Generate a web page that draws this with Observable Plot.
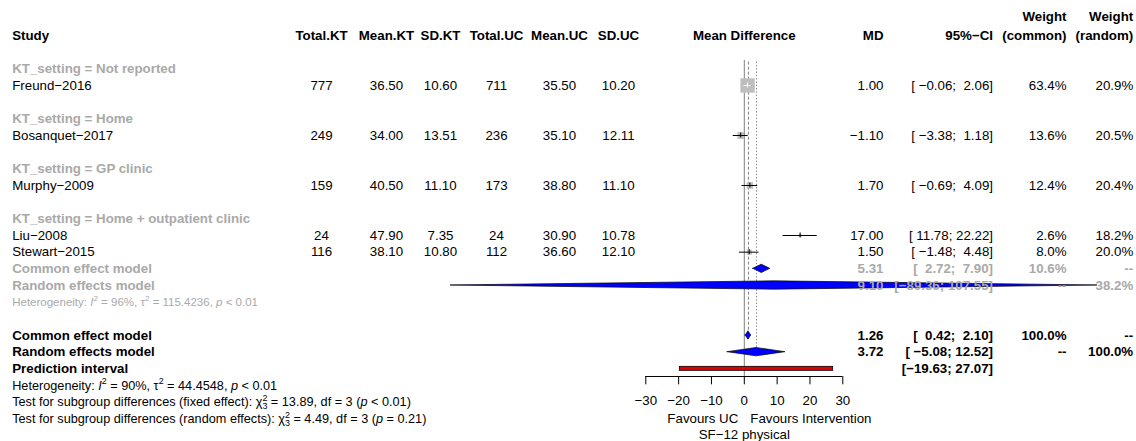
<!DOCTYPE html>
<html><head><meta charset="utf-8">
<script src="https://cdn.jsdelivr.net/npm/d3@7"></script>
<script src="https://cdn.jsdelivr.net/npm/@observablehq/plot@0.6"></script>
<style>
html,body{margin:0;padding:0;background:#fff;}
svg{font-family:"Liberation Sans",Arial,Helvetica,sans-serif;}
svg text{white-space:pre;}
</style></head><body>
<script>
// ---------- data ----------
const groupLabels = ["KT_setting = Not reported","KT_setting = Home","KT_setting = GP clinic","KT_setting = Home + outpatient clinic"];
const studies   = ["Freund\u22122016","Bosanquet\u22122017","Murphy\u22122009","Liu\u22122008","Stewart\u22122015"];
const studyGroup= [0,1,2,3,3];
const totalKT   = [777,249,159,24,116];
const meanKT    = [36.50,34.00,40.50,47.90,38.10];
const sdKT      = [10.60,13.51,11.10,7.35,10.80];
const totalUC   = [711,236,173,24,112];
const meanUC    = [35.50,35.10,38.80,30.90,36.60];
const sdUC      = [10.20,12.11,11.10,10.78,12.10];
const md        = [1.00,-1.10,1.70,17.00,1.50];
const ciLo      = [-0.06,-3.38,-0.69,11.78,-1.48];
const ciHi      = [2.06,1.18,4.09,22.22,4.48];
const wCommon   = [63.4,13.6,12.4,2.6,8.0];
const wRandom   = [20.9,20.5,20.4,18.2,20.0];
const subCommon = {group:3, md:5.31, lo:2.72, hi:7.90, wc:"10.6%", wr:"--"};
const subRandom = {group:3, md:9.10, lo:-89.36, hi:107.55, wc:"--", wr:"38.2%"};
const subHet    = "Heterogeneity: {i:I}{sup:2} = 96%, \u03c4{sup:2} = 115.4236, {i:p} < 0.01";
const overallCommon = {md:1.26, lo:0.42, hi:2.10, wc:"100.0%", wr:"--"};
const overallRandom = {md:3.72, lo:-5.08, hi:12.52, wc:"--", wr:"100.0%"};
const predInt   = {lo:-19.63, hi:27.07};
const hetText   = "Heterogeneity: {i:I}{sup:2} = 90%, \u03c4{sup:2} = 44.4548, {i:p} < 0.01";
const testFixed = "Test for subgroup differences (fixed effect): \u03c7{ss:2,3} = 13.89, df = 3 ({i:p} < 0.01)";
const testRandom= "Test for subgroup differences (random effects): \u03c7{ss:2,3} = 4.49, df = 3 ({i:p} = 0.21)";
const xTicks    = [-30,-20,-10,0,10,20,30];
const headers   = {study:"Study", totalKT:"Total.KT", meanKT:"Mean.KT", sdKT:"SD.KT", totalUC:"Total.UC", meanUC:"Mean.UC", sdUC:"SD.UC", md:"MD", ci:"95%\u2212CI", wc:"(common)", wr:"(random)"};
const xLabelLeft = "Favours UC", xLabelRight = "Favours Intervention", xTitle = "SF\u221212 physical";

// ---------- layout ----------
const W = 1136, H = 441, FS = 13.3;
const GRAY = "#A9A9A9";
const colX = {
  study:{x:11.7,a:"start"}, totalKT:{x:321,a:"middle"}, meanKT:{x:386,a:"middle"}, sdKT:{x:440,a:"middle"},
  totalUC:{x:496,a:"middle"}, meanUC:{x:559,a:"middle"}, sdUC:{x:618,a:"middle"},
  md:{x:883,a:"end"}, ci:{x:992.5,a:"end"}, wc:{x:1066,a:"end"}, wr:{x:1132.7,a:"end"}
};
const NB = "\u00A0";
const minus = s => s.replace(/-/g,"\u2212");
const f2 = v => minus(v.toFixed(2));
const pad = (s,n) => s.length>=n ? s : NB.repeat(n-s.length)+s;
const ci = (lo,hi) => "[" + pad(f2(lo),6) + ";" + NB + pad(f2(hi),5) + "]";
const pct = v => v.toFixed(1)+"%";
const K = v => () => v;

const cells = [];
const put = (col,row,text,o={}) => cells.push({col,row,text,color:o.color||"black",bold:!!o.bold,size:o.size||FS});
const studyRows = [], diamonds = [];
let r = 2;
const pxPerUnit = (842.3-645.3)/60, maxSide = 14.4;

for (const k in headers) put(k, 0, headers[k], {bold:true});
put("wc", -1.1, "Weight", {bold:true});
put("wr", -1.1, "Weight", {bold:true});

groupLabels.forEach((gl,g) => {
  put("study", r++, gl, {bold:true, color:GRAY});
  const idx = studies.map((s,i)=>i).filter(i=>studyGroup[i]===g);
  idx.forEach(i => {
    const side = maxSide*Math.sqrt(wCommon[i]/63.4);
    studyRows.push({row:r, md:md[i], lo:ciLo[i], hi:ciHi[i], w:wCommon[i],
      inside:(ciHi[i]-ciLo[i])*pxPerUnit < side});
    put("study", r, studies[i]);
    put("totalKT", r, String(totalKT[i])); put("meanKT", r, meanKT[i].toFixed(2)); put("sdKT", r, sdKT[i].toFixed(2));
    put("totalUC", r, String(totalUC[i])); put("meanUC", r, meanUC[i].toFixed(2)); put("sdUC", r, sdUC[i].toFixed(2));
    put("md", r, f2(md[i])); put("ci", r, ci(ciLo[i],ciHi[i]));
    put("wc", r, pct(wCommon[i])); put("wr", r, pct(wRandom[i]));
    r++;
  });
  if (idx.length > 1) {
    for (const [lab,s] of [["Common effect model",subCommon],["Random effects model",subRandom]]) {
      put("study", r, lab, {bold:true, color:GRAY});
      put("md", r, f2(s.md), {bold:true, color:GRAY});
      put("ci", r, ci(s.lo,s.hi), {bold:true, color:GRAY});
      put("wc", r, s.wc, {bold:true, color:GRAY});
      put("wr", r, s.wr, {bold:true, color:GRAY});
      diamonds.push({id:"s"+lab, row:r, ...s});
      r++;
    }
    put("study", r++, subHet, {color:GRAY, size:11.5});
  }
  r++;
});
const rowCommon = r, rowRandom = r+1, rowPI = r+2;
for (const [lab,s,row] of [["Common effect model",overallCommon,rowCommon],["Random effects model",overallRandom,rowRandom]]) {
  put("study", row, lab, {bold:true});
  put("md", row, f2(s.md), {bold:true});
  put("ci", row, ci(s.lo,s.hi), {bold:true});
  put("wc", row, s.wc, {bold:true});
  put("wr", row, s.wr, {bold:true});
  diamonds.push({id:"o"+lab, row, ...s});
}
put("study", rowPI, "Prediction interval", {bold:true});
put("ci", rowPI, ci(predInt.lo, predInt.hi), {bold:true});
put("study", rowPI+1, hetText, {size:12.7});
put("study", rowPI+2, testFixed, {size:12.7});
put("study", rowPI+3, testRandom, {size:12.7});

const axisRow = 20.46, tickLen = 0.5, tickLabRow = 21.9;
const dh = 0.25;
const diamondPts = diamonds.flatMap(d => [
  {id:d.id, x:d.lo, y1:d.row, y2:d.row},
  {id:d.id, x:d.md, y1:d.row-dh, y2:d.row+dh},
  {id:d.id, x:d.hi, y1:d.row, y2:d.row}
]);

const groupsMap = d3.group(cells, c => `${c.col}|${c.bold}|${c.size}`);
const textMarks = [...groupsMap].map(([k,arr]) => {
  const c = colX[arr[0].col];
  return Plot.text(arr, {y:"row", text:"text", fill:"color", frameAnchor:"left", dx:c.x,
    textAnchor:c.a, fontWeight:arr[0].bold?"bold":"normal", fontSize:arr[0].size});
});

const chart = Plot.plot({
  width:W, height:H, margin:0,
  x:{domain:[-30,30], range:[645.3,842.3], axis:null},
  y:{type:"linear", domain:[-1,23], range:[18.33,418.33], axis:null},
  r:{type:"sqrt", domain:[0,63.4], range:[0, maxSide/Math.sqrt(Math.PI)]},
  color:{type:"identity"},
  style:{fontFamily:'"Liberation Sans",Arial,sans-serif', fontSize:FS+"px", background:"white"},
  marks:[
    Plot.ruleX([0], {x:d=>d, y1:K(1.5), y2:K(axisRow), stroke:"#808080", strokeWidth:1}),
    Plot.ruleX([overallCommon.md], {x:d=>d, y1:K(1.6), y2:K(rowCommon-dh), stroke:"#808080", strokeDasharray:"3,2"}),
    Plot.ruleX([overallRandom.md], {x:d=>d, y1:K(1.6), y2:K(rowRandom-dh), stroke:"#808080", strokeDasharray:"1.3,2"}),
    Plot.dot(studyRows, {x:"md", y:"row", r:"w", symbol:"square", fill:"#BEBEBE", stroke:"none"}),
    Plot.ruleY(studyRows, {y:"row", x1:"lo", x2:"hi", stroke:d=>d.inside?"white":"black", strokeWidth:1}),
    Plot.ruleX(studyRows, {x:"md", y1:d=>d.row-0.15, y2:d=>d.row+0.15, stroke:d=>d.inside?"white":"black", strokeWidth:1}),
    Plot.areaY(diamondPts, {x:"x", y1:"y1", y2:"y2", z:"id", fill:"#0000FF", stroke:"black", strokeWidth:0.7}),
    Plot.rect([predInt], {x1:"lo", x2:"hi", y1:K(rowPI-0.12), y2:K(rowPI+0.12), fill:"#E00000", stroke:"black", strokeWidth:0.8}),
    Plot.ruleY([axisRow], {y:d=>d, x1:K(-30), x2:K(30), stroke:"black"}),
    Plot.ruleX(xTicks, {x:d=>d, y1:K(axisRow), y2:K(axisRow+tickLen), stroke:"black"}),
    Plot.text(xTicks, {x:d=>d, y:K(tickLabRow), text:d=>minus(String(d)), fontSize:FS}),
    Plot.text([xLabelLeft], {x:K(0), y:K(23), text:d=>d, textAnchor:"end", dx:-6, fontSize:FS}),
    Plot.text([xLabelRight], {x:K(0), y:K(23), text:d=>d, textAnchor:"start", dx:6, fontSize:FS}),
    Plot.text([xTitle], {x:K(0), y:K(23.95), text:d=>d, fontSize:FS}),
    Plot.text(["Mean Difference"], {x:K(0), y:K(0), text:d=>d, fontWeight:"bold", fontSize:FS}),
    ...textMarks
  ]
});
document.body.appendChild(chart);

// rich text (italic, superscripts, subscripts)
d3.select(chart).selectAll("text").each(function(){
  const src = this.textContent;
  if (!src.includes("{")) return;
  const g = this.parentNode;
  const fs = parseFloat(g.getAttribute("font-size")) || FS;
  const el = d3.select(this); el.text(null);
  const re = /\{(i|sup|ss):([^}]*)\}/g;
  let last = 0, m, shift = 0;
  const span = (t, o={}) => {
    const s = el.append("tspan").text(t);
    for (const k in o) s.attr(k, o[k]);
    return s;
  };
  const normal = t => { if (!t) return; const o = {}; if (shift) { o.dy = -shift; shift = 0; } span(t, o); };
  while ((m = re.exec(src))) {
    normal(src.slice(last, m.index));
    const [_, kind, val] = m;
    if (kind === "i") { const o = {"font-style":"italic"}; if (shift) { o.dy = -shift; shift = 0; } span(val, o); }
    else if (kind === "sup") { span(val, {"font-size":fs*0.7, dy:-0.4*fs - shift}); shift = -0.4*fs; }
    else if (kind === "ss") {
      const [a,b] = val.split(",");
      span(a, {"font-size":fs*0.7, dy:-0.4*fs - shift});
      span(b, {"font-size":fs*0.7, dx:-0.39*fs, dy:0.65*fs});
      shift = 0.25*fs;
    }
    last = re.lastIndex;
  }
  normal(src.slice(last));
});
</script>
</body></html>
